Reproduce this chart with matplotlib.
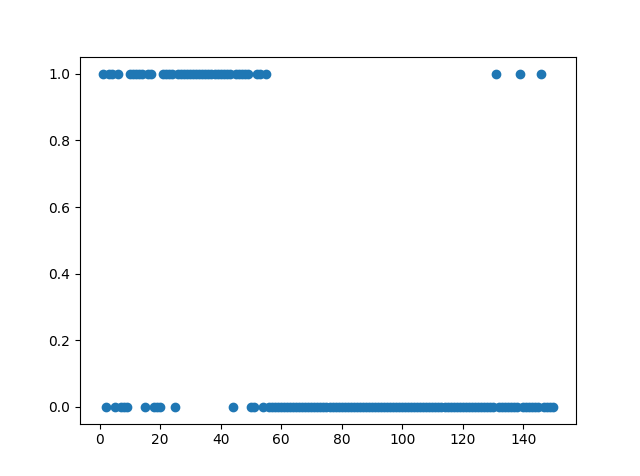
import numpy as np
import matplotlib
matplotlib.use('Agg')
import matplotlib.pyplot as plt

# indices (1..150) whose label is 1; every other index has label 0
ones_idx = [1, 3, 4, 6, 10, 11, 12, 13, 14, 16, 17, 21, 22, 23, 24,
            26, 27, 28, 29, 30, 31, 32, 33, 34, 35, 36, 37, 38, 39, 40,
            41, 42, 43, 45, 46, 47, 48, 49, 52, 53, 55,
            131, 139, 146]

x = np.arange(1, 151)
y = np.array([1 if i in ones_idx else 0 for i in x])

fig = plt.figure(figsize=(6.4, 4.76), dpi=100)
plt.scatter(x, y)
plt.savefig('out.png')
